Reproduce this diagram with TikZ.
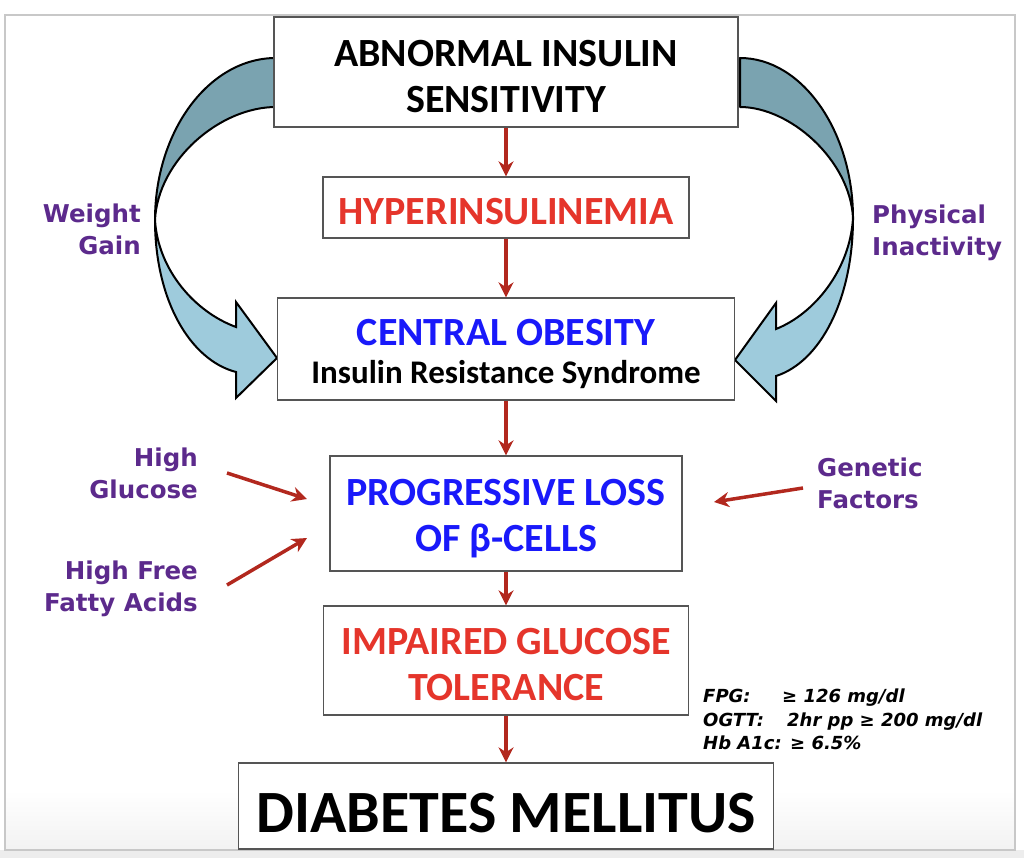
\documentclass[tikz,border=0pt]{standalone}
\usepackage{fontspec}
\setmainfont{Carlito}
\newfontfamily\verd{DejaVu Sans}
\usetikzlibrary{arrows.meta}

\definecolor{arrowred}{RGB}{178,40,30}
\definecolor{titlered}{RGB}{229,53,43}
\definecolor{titleblue}{RGB}{25,25,250}
\definecolor{causepurple}{RGB}{92,42,140}
\definecolor{backblue}{RGB}{122,163,176}
\definecolor{frontblue}{RGB}{158,203,220}
\definecolor{boxgray}{RGB}{85,85,85}
\definecolor{slidegray}{RGB}{200,200,200}
% lowers the text a little inside its box
\newcommand{\lineup}[1][35pt]{\rule{0pt}{#1}}

\begin{document}
\begin{tikzpicture}[x=1pt,y=-1pt,>={Stealth[length=15pt,width=15pt]},
  box/.style={draw=boxgray,line width=1.3pt,fill=white,inner sep=0pt,align=center,
    font=\bfseries\fontsize{40}{46}\selectfont},
  flow/.style={->,draw=arrowred,fill=arrowred,line width=3.5pt},
  cause/.style={inner sep=0pt,text=causepurple,font=\verd\bfseries\fontsize{24.5}{32}\selectfont},
  backpart/.style={draw=black,line width=2pt,line join=round,fill=backblue},
  frontpart/.style={draw=black,line width=2pt,fill=frontblue}]
\useasboundingbox (0,0) rectangle (1024,858);
% slide
\fill[black!7] (0,850) rectangle (1024,858);
\shade[top color=white,bottom color=black!5] (5,790) rectangle (1015,850);
\draw[slidegray,line width=1.5pt] (5,15) rectangle (1015,850);
% weight gain loop
\draw[backpart] (276,58) .. controls (209,58) and (155,131) .. (155,220)
  .. controls (158,160) and (220,107) .. (276,107) -- cycle;
\draw[frontpart] (155,220) .. controls (155,300) and (190,360) .. (236,372)
  -- (236,398) -- (277,358) -- (236,302) -- (236,327)
  .. controls (195,312) and (158,270) .. (155,220) -- cycle;
% physical inactivity loop
\draw[backpart] (740,58) .. controls (802,58) and (853,131) .. (853,218)
  .. controls (850,160) and (790,107) .. (740,107) -- cycle;
\draw[frontpart] (853,218) .. controls (853,300) and (820,362) .. (776,376)
  -- (776,401) -- (735,360) -- (776,303) -- (776,329)
  .. controls (814,314) and (850,270) .. (853,218) -- cycle;
% main chain
\node[box,minimum width=464pt,minimum height=110pt] (ins) at (506,72)
  {\lineup ABNORMAL INSULIN\\SENSITIVITY};
\node[box,text=titlered,minimum width=366pt,minimum height=61pt] (hyper) at (506,207.5)
  {\lineup[34pt]HYPERINSULINEMIA};
\node[box,font=\bfseries\fontsize{40}{38}\selectfont,minimum width=457pt,minimum height=102pt] (obes) at (506,349)
  {\lineup[36pt]\textcolor{titleblue}{CENTRAL OBESITY}\\{\fontsize{33}{38}\selectfont Insulin Resistance Syndrome}};
\node[box,text=titleblue,minimum width=352pt,minimum height=115pt] (loss) at (506,513.5)
  {\lineup[37pt]PROGRESSIVE LOSS\\OF β-CELLS};
\node[box,text=titlered,minimum width=365pt,minimum height=109pt] (igt) at (506,660.5)
  {\lineup[34pt]IMPAIRED GLUCOSE\\TOLERANCE};
\node[box,font=\bfseries\fontsize{60}{60}\selectfont,minimum width=535pt,minimum height=86pt] (dm) at (506,806)
  {\lineup[53pt]DIABETES MELLITUS};
\draw[flow] (ins) -- (hyper);
\draw[flow] (hyper) -- (obes);
\draw[flow] (obes) -- (loss);
\draw[flow] (loss) -- (igt);
\draw[flow] (igt) -- (dm);
% causes
\node[cause,anchor=north east,align=right] (wg) at (141,204) {Weight\\Gain};
\node[cause,anchor=north west,align=left] (pi) at (872,205) {Physical\\Inactivity};
\node[cause,anchor=north east,align=right] (hg) at (198,448) {High\\Glucose};
\node[cause,anchor=north east,align=right] (ffa) at (198,561) {High Free\\Fatty Acids};
\node[cause,anchor=north west,align=left] (gf) at (817,458) {Genetic\\Factors};
\coordinate (glu) at (227,473);
\coordinate (glutip) at (307,499);
\coordinate (fat) at (227,585);
\coordinate (fattip) at (307,538);
\coordinate (gen) at (803,488);
\coordinate (gentip) at (714,502);
\draw[flow] (glu) -- (glutip);
\draw[flow] (fat) -- (fattip);
\draw[flow] (gen) -- (gentip);
% criteria
\node[anchor=north west,inner sep=0pt,align=left,
  font=\verd\bfseries\itshape\fontsize{18}{23.5}\selectfont] (crit) at (703,689)
  {\makebox[79pt][l]{FPG:}≥ 126 mg/dl\\
   \makebox[84pt][l]{OGTT:}2hr pp ≥ 200 mg/dl\\
   \makebox[87pt][l]{Hb A1c:}≥ 6.5\%};
\end{tikzpicture}
\end{document}
